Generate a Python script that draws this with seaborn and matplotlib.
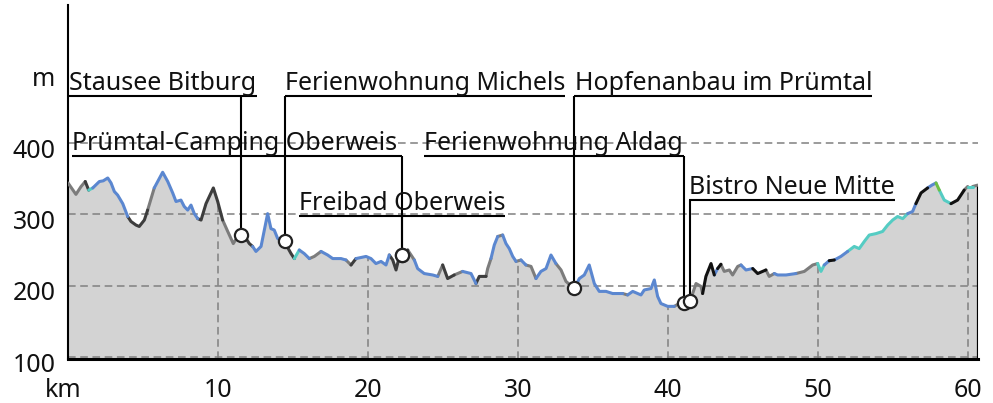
import numpy as np
import pandas as pd
import matplotlib
matplotlib.use("Agg")
import matplotlib.pyplot as plt
import seaborn as sns
from matplotlib.transforms import ScaledTranslation

# ---------------- data ----------------
km = [0.0, 0.53, 0.87, 1.15, 1.38, 1.65, 2.09, 2.35, 2.65, 2.87,
      3.09, 3.31, 3.65, 3.98, 4.2, 4.53, 4.75, 5.09, 5.31, 5.75,
      6.31, 6.65, 6.98, 7.2, 7.53, 7.75, 7.98, 8.2, 8.42, 8.65,
      8.87, 9.2, 9.69, 9.98, 10.31, 10.65, 11.02, 11.31, 11.53, 11.87,
      12.09, 12.31, 12.53, 12.87, 13.09, 13.31, 13.53, 13.75, 13.98, 14.42,
      14.87, 15.09, 15.42, 15.75, 16.09, 16.42, 16.87, 17.31, 17.65, 18.2,
      18.53, 18.87, 19.2, 19.87, 20.2, 20.53, 20.87, 21.2, 21.42, 21.65,
      21.87, 22.09, 22.27, 22.65, 23.09, 23.31, 23.75, 24.31, 24.65, 24.98,
      25.31, 25.75, 26.31, 26.87, 27.2, 27.42, 27.87, 27.98, 28.2, 28.42,
      28.65, 28.98, 29.2, 29.42, 29.65, 29.87, 30.2, 30.53, 30.87, 31.2,
      31.53, 31.87, 32.2, 32.53, 32.87, 33.2, 33.75, 34.09, 34.42, 34.75,
      35.09, 35.42, 35.87, 36.31, 36.98, 37.31, 37.65, 38.2, 38.42, 38.87,
      39.09, 39.31, 39.53, 39.98, 40.42, 40.75, 41.07, 41.47, 41.87, 42.2,
      42.31, 42.53, 42.87, 43.09, 43.31, 43.53, 43.75, 44.09, 44.31, 44.65,
      44.87, 45.2, 45.65, 45.98, 46.53, 46.75, 47.09, 47.31, 47.87, 48.53,
      49.09, 49.65, 49.98, 50.2, 50.42, 50.75, 51.09, 51.53, 51.98, 52.42,
      52.75, 53.09, 53.42, 53.87, 54.31, 54.65, 54.98, 55.31, 55.65, 55.98,
      56.31, 56.53, 56.87, 57.31, 57.6, 57.87, 58.09, 58.42, 58.87, 59.31,
      59.75, 59.98, 60.31, 60.65]

elevation = [344, 328, 339, 346, 334, 337, 346, 347, 351, 344,
             332, 327, 315, 297, 290, 285, 283, 292, 306, 337,
             359, 346, 330, 318, 320, 311, 306, 313, 301, 294,
             292, 315, 337, 318, 292, 276, 259, 269, 271, 266,
             259, 255, 248, 255, 278, 301, 280, 278, 266, 262,
             245, 238, 250, 245, 238, 241, 248, 243, 238, 238,
             236, 229, 238, 241, 238, 231, 234, 229, 243, 236,
             222, 241, 243, 250, 236, 224, 217, 215, 213, 229,
             210, 215, 220, 217, 203, 213, 213, 224, 238, 257,
             269, 271, 259, 252, 241, 234, 236, 229, 227, 210,
             220, 224, 243, 231, 222, 206, 196, 210, 215, 229,
             203, 192, 192, 189, 189, 187, 192, 187, 194, 196,
             208, 185, 175, 171, 171, 175, 176, 178, 203, 199,
             189, 213, 231, 215, 224, 230, 220, 222, 215, 227,
             229, 222, 224, 217, 222, 213, 217, 215, 215, 217,
             220, 229, 231, 220, 229, 235, 236, 241, 248, 255,
             252, 262, 271, 273, 276, 285, 292, 297, 294, 301,
             304, 315, 330, 337, 341, 344, 334, 320, 315, 320,
             334, 339, 339, 341]

# surface type of the segment starting at each point
surface = list("GGGDTBBBBB" "BBBDDDDDGB" "BBBBBBBBBD" "DDDDGGGDDD"
               "DBBBBBBBBD" "DTBBGGBBBB" "GDBBBBBBDD" "DDDGBBBBGD"
               "DGBBDDGGBB" "GBBBBGBGGB" "BBBGGGBBBB" "BBBBGBBBBB"
               "BBBBGGGGGG" "KKKBKGGGGG" "BBKKGGBBBG" "GGTTBKBBTT"
               "TTTTTTTTTB" "BKKBBNTTKK" "GTGG")

poi_names = ["Stausee Bitburg", "Ferienwohnung Michels", "Hopfenanbau im Prümtal",
             "Prümtal-Camping Oberweis", "Ferienwohnung Aldag", "Freibad Oberweis",
             "Bistro Neue Mitte"]
poi_km = [11.53, 14.47, 33.73, 22.27, 41.07, 22.27, 41.47]
poi_m = [271, 263, 197, 243, 176, 243, 178]

x_ticks = [0, 10, 20, 30, 40, 50, 60]
x_labels = ["km", "10", "20", "30", "40", "50", "60"]
y_ticks = [100, 200, 300, 400, 500]
y_labels = ["100", "200", "300", "400", "m"]
grid_y = [100, 200, 300, 400]

# ---------------- layout ----------------
label_x = [0.1, 14.45, 33.8, 0.25, 23.75, 15.4, 41.4]
label_line = [466, 466, 466, 382, 382, 298, 320]

palette = {"B": "#5b87d0", "G": "#7c7c7c", "D": "#3d3d3d", "K": "#111111",
           "T": "#55ccc3", "N": "#6dbf45"}

sns.set_style("white")
plt.rcParams["font.family"] = ["Noto Sans", "DejaVu Sans"]
plt.rcParams["lines.solid_capstyle"] = "round"
plt.rcParams["lines.solid_joinstyle"] = "round"
FS = 18

# build runs of equal surface
rows = []
run = 0
i = 0
n = len(km)
while i < n - 1:
    j = i
    while j + 1 < n - 1 and surface[j + 1] == surface[i]:
        j += 1
    for k in range(i, j + 2):
        rows.append({"km": km[k], "m": elevation[k], "surface": surface[i], "run": run})
    run += 1
    i = j + 1
prof = pd.DataFrame(rows)

fig = plt.figure(figsize=(9.93, 4.03), dpi=100)
ax = fig.add_axes([68 / 993, 44 / 403, 910 / 993, 354 / 403])
YMIN, YMAX = 97.2, 593.5
ax.set_xlim(0, 60.67)
ax.set_ylim(YMIN, YMAX)

ax.fill_between(km, elevation, YMIN, color="#d3d3d3", lw=0, zorder=1)

dash = (0, (5, 3))
for x in x_ticks[1:]:
    ax.vlines(x, YMIN, np.interp(x, km, elevation), colors="#808080",
              linestyles=dash, lw=1.1, zorder=2)
for y in grid_y:
    ax.axhline(y, color="#808080", ls=dash, lw=1.1, zorder=2)

ax.vlines(km[-1], YMIN, elevation[-1], colors="black", lw=1.6, zorder=3)

sns.lineplot(data=prof, x="km", y="m", hue="surface", units="run", estimator=None,
             sort=False, palette=palette, lw=2.2, legend=False, ax=ax, zorder=4)

texts = []
for name, lx, ly in zip(poi_names, label_x, label_line):
    t = ax.text(lx, ly + 8.4, name, va="baseline", ha="left", fontsize=FS,
                color="#111111", zorder=7)
    texts.append(t)

fig.canvas.draw()
r = fig.canvas.get_renderer()
inv = ax.transData.inverted()
for t, pk, pm, ly in zip(texts, poi_km, poi_m, label_line):
    bb = t.get_window_extent(r).transformed(inv)
    x0 = min(bb.x0, pk)
    x1 = max(bb.x1, pk)
    ax.plot([x0, x1], [ly, ly], color="black", lw=1.5, solid_capstyle="butt", zorder=5)
    ax.plot([pk, pk], [ly, pm], color="black", lw=1.5, solid_capstyle="butt", zorder=5)

sns.scatterplot(x=poi_km, y=poi_m, s=90, color="white", edgecolor="#222222",
                linewidth=1.6, zorder=6, ax=ax)

ax.set_xticks(x_ticks)
ax.set_xticklabels(x_labels)
ax.set_yticks(y_ticks)
ax.set_yticklabels(y_labels)
ax.tick_params(axis="both", length=0, labelsize=FS, colors="#111111")
ax.tick_params(axis="x", pad=14)
ax.tick_params(axis="y", pad=9)
off = ScaledTranslation(0, -5 / 100, fig.dpi_scale_trans)
for lab in ax.get_yticklabels():
    lab.set_transform(lab.get_transform() + off)
kmlab = ax.get_xticklabels()[0]
kmlab.set_transform(kmlab.get_transform() + ScaledTranslation(-5 / 100, 0, fig.dpi_scale_trans))
ax.set_xlabel("")
ax.set_ylabel("")
ax.grid(False)

for s in ["top", "right"]:
    ax.spines[s].set_visible(False)
ax.spines["left"].set_color("black")
ax.spines["left"].set_linewidth(1.5)
ax.spines["bottom"].set_color("black")
ax.spines["bottom"].set_linewidth(2.2)

fig.savefig("out.png", dpi=100)
